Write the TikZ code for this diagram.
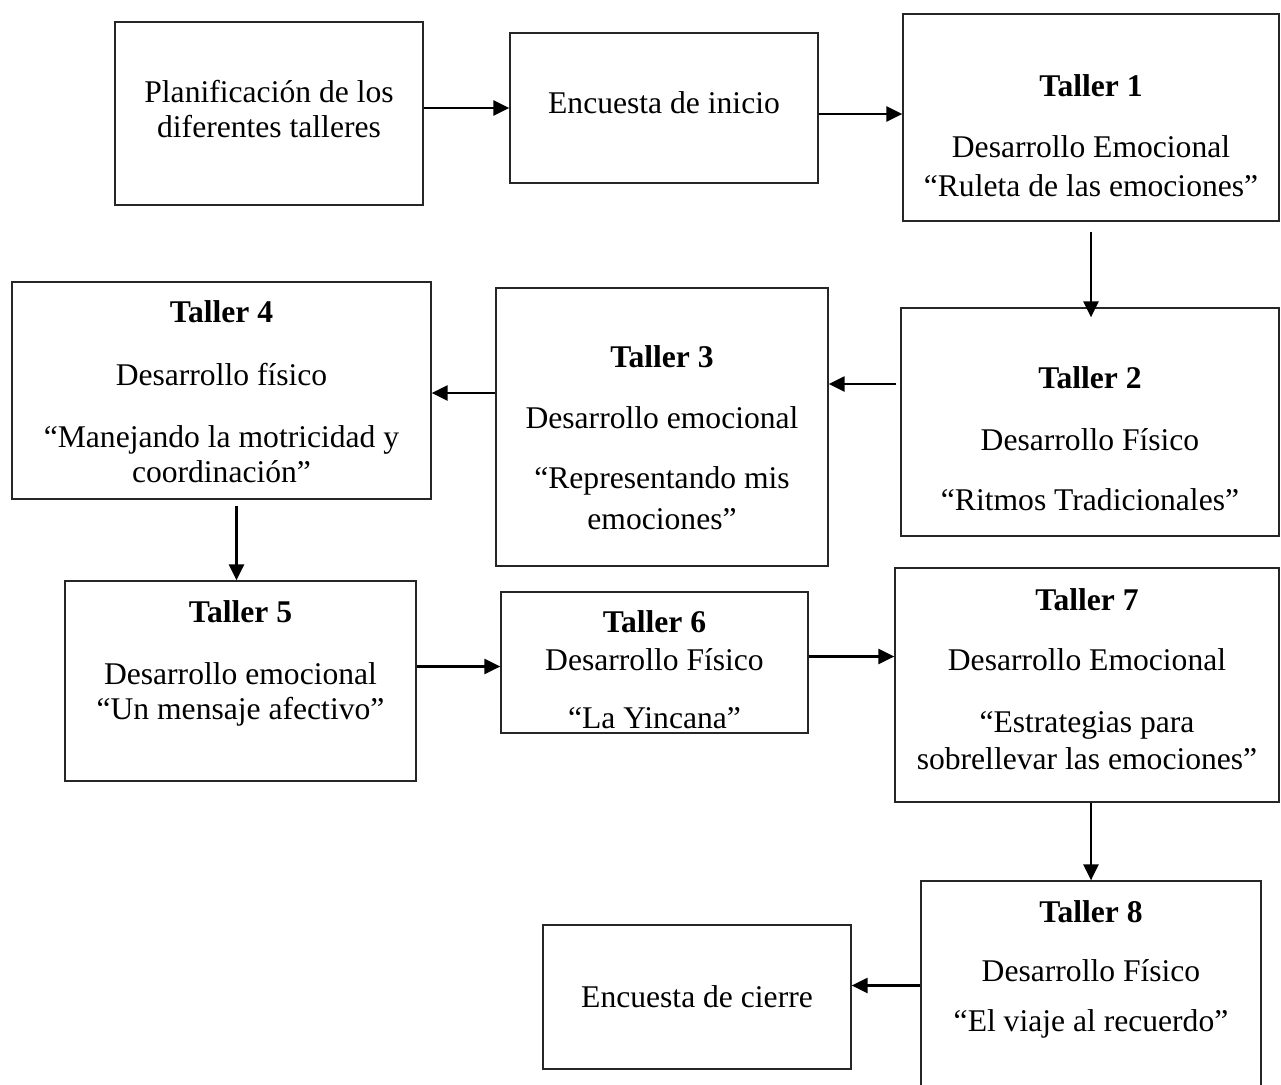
\documentclass[tikz,border=0pt]{standalone}
\usepackage{fontspec}
\setmainfont{Liberation Serif}
\usetikzlibrary{arrows.meta}

\begin{document}
\begin{tikzpicture}[x=0.5pt, y=-0.5pt,
  box/.style={draw=black!85, line width=0.65pt, inner sep=0pt},
  txt/.style={anchor=base, inner sep=0pt, font=\fontsize{15.8}{19}\selectfont},
  arr/.style={line width=1.2pt, -{Triangle[length=8pt, width=7.5pt]}}]
\useasboundingbox (0,0) rectangle (1281,1084);

% first row
\node[box, minimum width=154pt, minimum height=91.5pt] (plan) at (269,113.5) {};
\node[txt] (plana) at (269,102) {Planificación de los};
\node[txt] (planb) at (269,137) {diferentes talleres};

\node[box, minimum width=154pt, minimum height=75pt] (ini) at (664,108) {};
\node[txt] (inia) at (664,113) {Encuesta de inicio};

\node[box, minimum width=188pt, minimum height=103.5pt] (t1) at (1091,117.5) {};
\node[txt] (t1a) at (1091,96) {\textbf{Taller 1}};
\node[txt] (t1b) at (1091,157) {Desarrollo Emocional};
\node[txt] (t1c) at (1091,196) {“Ruleta de las emociones”};

% second row
\node[box, minimum width=189pt, minimum height=114pt] (t2) at (1090,422) {};
\node[txt] (t2a) at (1090,388) {\textbf{Taller 2}};
\node[txt] (t2b) at (1090,450) {Desarrollo Físico};
\node[txt] (t2c) at (1090,510) {“Ritmos Tradicionales”};

\node[box, minimum width=166pt, minimum height=139pt] (t3) at (662,427) {};
\node[txt] (t3a) at (662,367) {\textbf{Taller 3}};
\node[txt] (t3b) at (662,428) {Desarrollo emocional};
\node[txt] (t3c) at (662,488) {“Representando mis};
\node[txt] (t3d) at (662,529) {emociones”};

\node[box, minimum width=209.5pt, minimum height=108.5pt] (t4) at (221.5,390.5) {};
\node[txt] (t4a) at (221.5,322) {\textbf{Taller 4}};
\node[txt] (t4b) at (221.5,385) {Desarrollo físico};
\node[txt] (t4c) at (221.5,447) {“Manejando la motricidad y};
\node[txt] (t4d) at (221.5,482) {coordinación”};

% third row
\node[box, minimum width=175.5pt, minimum height=100pt] (t5) at (240.5,681) {};
\node[txt] (t5a) at (240.5,622) {\textbf{Taller 5}};
\node[txt] (t5b) at (240.5,684) {Desarrollo emocional};
\node[txt] (t5c) at (240.5,719) {“Un mensaje afectivo”};

\node[box, minimum width=153.5pt, minimum height=70.5pt] (t6) at (654.5,662.5) {};
\node[txt] (t6a) at (654.5,632) {\textbf{Taller 6}};
\node[txt] (t6b) at (654.5,670) {Desarrollo Físico};
\node[txt] (t6c) at (654.5,728) {“La Yincana”};

\node[box, minimum width=192pt, minimum height=117pt] (t7) at (1087,685) {};
\node[txt] (t7a) at (1087,610) {\textbf{Taller 7}};
\node[txt] (t7b) at (1087,670) {Desarrollo Emocional};
\node[txt] (t7c) at (1087,732) {“Estrategias para};
\node[txt] (t7d) at (1087,769) {sobrellevar las emociones”};

% last row
\node[box, minimum width=170pt, minimum height=104.5pt] (t8) at (1091,985.5) {};
\node[txt] (t8a) at (1091,922) {\textbf{Taller 8}};
\node[txt] (t8b) at (1091,981) {Desarrollo Físico};
\node[txt] (t8c) at (1091,1031) {“El viaje al recuerdo”};

\node[box, minimum width=154pt, minimum height=72pt] (cierre) at (697,997) {};
\node[txt] (cierrea) at (697,1007) {Encuesta de cierre};

% arrows
\draw[arr] (plan.east |- ini.west) -- (ini.west);
\draw[arr] ([yshift=-3pt]ini.east) -- ([yshift=-3pt]ini.east -| t1.west);
\draw[arr] ([yshift=-5pt]t1.south) -- ([yshift=-5pt]t1.south |- t2.north);
\draw[arr] ([xshift=-2pt,yshift=19pt]t2.west) -- ([yshift=19pt]t2.west -| t3.east);
\draw[arr] ([yshift=17pt]t3.west) -- ([yshift=17pt]t3.west -| t4.east);
\draw[arr] ([xshift=-2pt,yshift=-3pt]t5.north |- t4.south) -- ([xshift=-2pt]t5.north);
\draw[arr] ([yshift=-2pt]t6.west -| t5.east) -- ([yshift=-2pt]t6.west);
\draw[arr] ([yshift=3pt]t6.east) -- ([yshift=3pt]t6.east -| t7.west);
\draw[arr] (t8.north |- t7.south) -- (t8.north);
\draw[arr] (t8.west) -- (t8.west -| cierre.east);
\end{tikzpicture}
\end{document}
